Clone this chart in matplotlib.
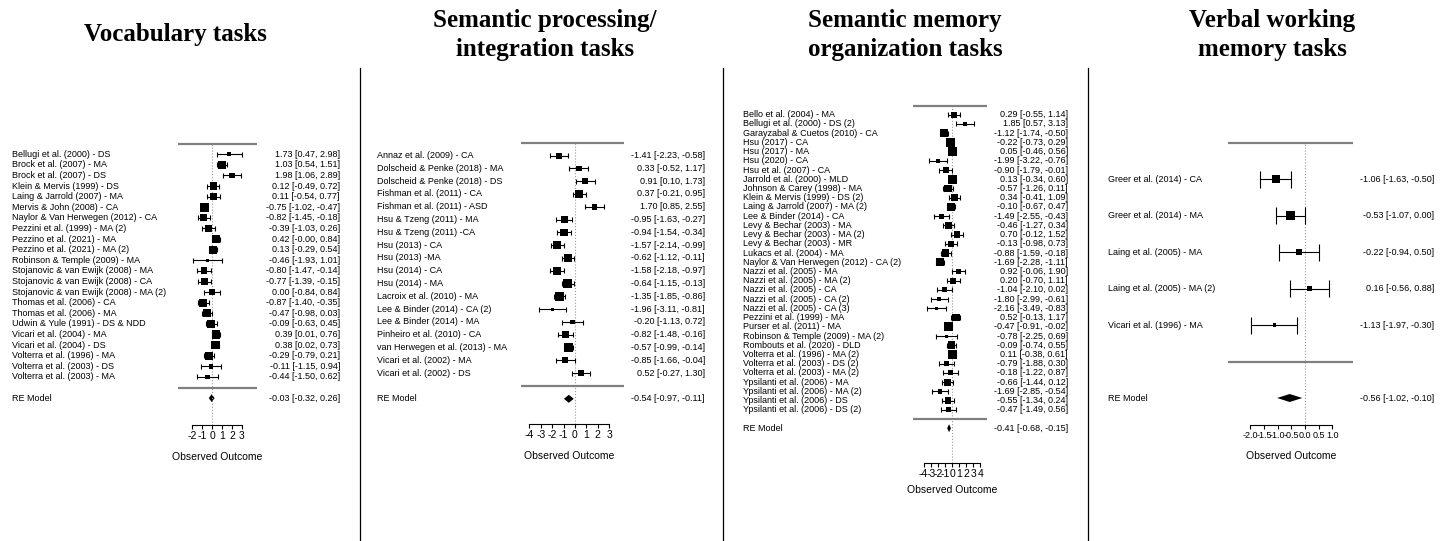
import numpy as np
import matplotlib
matplotlib.use('Agg')
import matplotlib.pyplot as plt
from matplotlib import transforms
from matplotlib.lines import Line2D

# ---- data ----
vocab_labels = ['Bellugi et al. (2000) - DS', 'Brock et al. (2007) - MA', 'Brock et al. (2007) - DS',
                'Klein & Mervis (1999) - DS', 'Laing & Jarrold (2007) - MA', 'Mervis & John (2008) - CA',
                'Naylor & Van Herwegen (2012) - CA', 'Pezzini et al. (1999) - MA (2)', 'Pezzino et al. (2021) - MA',
                'Pezzino et al. (2021) - MA (2)', 'Robinson & Temple (2009) - MA',
                'Stojanovic & van Ewijk (2008) - MA', 'Stojanovic & van Ewijk (2008) - CA',
                'Stojanovic & van Ewijk (2008) - MA (2)', 'Thomas et al. (2006) - CA', 'Thomas et al. (2006) - MA',
                'Udwin & Yule (1991) - DS & NDD', 'Vicari et al. (2004) - MA', 'Vicari et al. (2004) - DS',
                'Volterra et al. (1996) - MA', 'Volterra et al. (2003) - DS', 'Volterra et al. (2003) - MA']
vocab_est = [1.73, 1.03, 1.98, 0.12, 0.11, -0.75, -0.82, -0.39, 0.42, 0.13, -0.46, -0.80, -0.77, 0.00,
             -0.87, -0.47, -0.09, 0.39, 0.38, -0.29, -0.11, -0.44]
vocab_lo = [0.47, 0.54, 1.06, -0.49, -0.54, -1.02, -1.45, -1.03, -0.004, -0.29, -1.93, -1.47, -1.39, -0.84,
            -1.40, -0.98, -0.63, 0.01, 0.02, -0.79, -1.15, -1.50]
vocab_hi = [2.98, 1.51, 2.89, 0.72, 0.77, -0.47, -0.18, 0.26, 0.84, 0.54, 1.01, -0.14, -0.15, 0.84,
            -0.35, 0.03, 0.45, 0.76, 0.73, 0.21, 0.94, 0.62]
vocab_re = (-0.03, -0.32, 0.26)

sem_labels = ['Annaz et al. (2009) - CA', 'Dolscheid & Penke (2018) - MA', 'Dolscheid & Penke (2018) - DS',
              'Fishman et al. (2011) - CA', 'Fishman et al. (2011) - ASD', 'Hsu & Tzeng (2011) - MA',
              'Hsu & Tzeng (2011) -CA', 'Hsu (2013) - CA', 'Hsu (2013) -MA', 'Hsu (2014) - CA', 'Hsu (2014) - MA',
              'Lacroix et al. (2010) - MA', 'Lee & Binder (2014) - CA (2)', 'Lee & Binder (2014) - MA',
              'Pinheiro et al. (2010) - CA', 'van Herwegen et al. (2013) - MA', 'Vicari et al. (2002) - MA',
              'Vicari et al. (2002) - DS']
sem_est = [-1.41, 0.33, 0.91, 0.37, 1.70, -0.95, -0.94, -1.57, -0.62, -1.58, -0.64, -1.35, -1.96, -0.20,
           -0.82, -0.57, -0.85, 0.52]
sem_lo = [-2.23, -0.52, 0.10, -0.21, 0.85, -1.63, -1.54, -2.14, -1.12, -2.18, -1.15, -1.85, -3.11, -1.13,
          -1.48, -0.99, -1.66, -0.27]
sem_hi = [-0.58, 1.17, 1.73, 0.95, 2.55, -0.27, -0.34, -0.99, -0.11, -0.97, -0.13, -0.86, -0.81, 0.72,
          -0.16, -0.14, -0.04, 1.30]
sem_re = (-0.54, -0.97, -0.11)

org_labels = ['Bello et al. (2004) - MA', 'Bellugi et al. (2000) - DS (2)', 'Garayzabal & Cuetos (2010) - CA',
              'Hsu (2017) - CA', 'Hsu (2017) - MA', 'Hsu (2020) - CA', 'Hsu et al. (2007) - CA',
              'Jarrold et al. (2000) - MLD', 'Johnson & Carey (1998) - MA', 'Klein & Mervis (1999) - DS (2)',
              'Laing & Jarrold (2007) - MA (2)', 'Lee & Binder (2014) - CA', 'Levy & Bechar (2003) - MA',
              'Levy & Bechar (2003) - MA (2)', 'Levy & Bechar (2003) - MR', 'Lukacs et al. (2004) - MA',
              'Naylor & Van Herwegen (2012) - CA (2)', 'Nazzi et al. (2005) - MA', 'Nazzi et al. (2005) - MA (2)',
              'Nazzi et al. (2005) - CA', 'Nazzi et al. (2005) - CA (2)', 'Nazzi et al. (2005) - CA (3)',
              'Pezzini et al. (1999) - MA', 'Purser et al. (2011) - MA', 'Robinson & Temple (2009) - MA (2)',
              'Rombouts et al. (2020) - DLD', 'Volterra et al. (1996) - MA (2)', 'Volterra et al. (2003) - DS (2)',
              'Volterra et al. (2003) - MA (2)', 'Ypsilanti et al. (2006) - MA', 'Ypsilanti et al. (2006) - MA (2)',
              'Ypsilanti et al. (2006) - DS', 'Ypsilanti et al. (2006) - DS (2)']
org_est = [0.29, 1.85, -1.12, -0.22, 0.05, -1.99, -0.90, 0.13, -0.57, 0.34, -0.10, -1.49, -0.46, 0.70, -0.13,
           -0.88, -1.69, 0.92, 0.20, -1.04, -1.80, -2.16, 0.52, -0.47, -0.78, -0.09, 0.11, -0.79, -0.18, -0.66,
           -1.69, -0.55, -0.47]
org_lo = [-0.55, 0.57, -1.74, -0.73, -0.46, -3.22, -1.79, -0.34, -1.26, -0.41, -0.67, -2.55, -1.27, -0.12,
          -0.98, -1.59, -2.28, -0.06, -0.70, -2.10, -2.99, -3.49, -0.13, -0.91, -2.25, -0.74, -0.38, -1.88,
          -1.22, -1.44, -2.85, -1.34, -1.49]
org_hi = [1.14, 3.13, -0.50, 0.29, 0.56, -0.76, -0.01, 0.60, 0.11, 1.09, 0.47, -0.43, 0.34, 1.52, 0.73,
          -0.18, -1.11, 1.90, 1.11, 0.02, -0.61, -0.83, 1.17, -0.02, 0.69, 0.55, 0.61, 0.30, 0.87, 0.12,
          -0.54, 0.24, 0.56]
org_re = (-0.41, -0.68, -0.15)

wm_labels = ['Greer et al. (2014) - CA', 'Greer et al. (2014) - MA', 'Laing et al. (2005) - MA',
             'Laing et al. (2005) - MA (2)', 'Vicari et al. (1996) - MA']
wm_est = [-1.06, -0.53, -0.22, 0.16, -1.13]
wm_lo = [-1.63, -1.07, -0.94, -0.56, -1.97]
wm_hi = [-0.50, 0.00, 0.50, 0.88, -0.30]
wm_re = (-0.56, -1.02, -0.10)

titles = ['Vocabulary tasks', 'Semantic processing/\nintegration tasks',
          'Semantic memory\norganization tasks', 'Verbal working\nmemory tasks']

# ---- layout (pixels) ----
W, H = 1449, 541
T, B = 90, 510
panels = [
    dict(data=(vocab_labels, vocab_est, vocab_lo, vocab_hi, vocab_re), L=12, R=340, z=212, s=10.0,
         r=10.6, p0=387.5, axis=425, line=(-3.4, 4.5), ticks=np.arange(-2, 4), cap=2.5, tx=175,
         xl=32, tfs=7.5),
    dict(data=(sem_labels, sem_est, sem_lo, sem_hi, sem_re), L=377, R=705, z=575, s=11.43,
         r=12.8, p0=386, axis=424, line=(-4.72, 4.29), ticks=np.arange(-4, 4), cap=2.5, tx=545,
         xl=32, tfs=7.5),
    dict(data=(org_labels, org_est, org_lo, org_hi, org_re), L=743, R=1068, z=952, s=7.1,
         r=9.22, p0=419, axis=463, line=(-5.5, 4.9), ticks=np.arange(-4, 5), cap=2.5, tx=905,
         xl=27, tfs=7.5),
    dict(data=(wm_labels, wm_est, wm_lo, wm_hi, wm_re), L=1108, R=1434, z=1305, s=27.33,
         r=36.5, p0=361.5, axis=425, line=(-2.82, 1.76), ticks=np.arange(-2, 1.01, 0.5), cap=8.5, tx=1272,
         xl=31, tfs=6.5),
]

fig = plt.figure(figsize=(W / 100, H / 100), dpi=100)
lab_font = dict(family='Liberation Sans', fontsize=6.5)


def re_weights(est, lo, hi):
    y = np.array(est)
    vi = ((np.array(hi) - np.array(lo)) / 3.92) ** 2
    w = 1 / vi
    yb = np.sum(w * y) / np.sum(w)
    Q = np.sum(w * (y - yb) ** 2)
    tau2 = max(0, (Q - (len(y) - 1)) / (np.sum(w) - np.sum(w ** 2) / np.sum(w)))
    return 1 / (vi + tau2)


for p in panels:
    labels, est, lo, hi, re = p['data']
    k = len(labels)
    ax = fig.add_axes([p['L'] / W, 1 - B / H, (p['R'] - p['L']) / W, (B - T) / H])
    ax.set_facecolor('none')
    ax.set_xlim((p['L'] - p['z']) / p['s'], (p['R'] - p['z']) / p['s'])
    ax.set_ylim((p['p0'] - B) / p['r'], (p['p0'] - T) / p['r'])
    rows = np.arange(k, 0, -1)
    cap = p['cap'] / p['r']
    axis_y = (p['p0'] - p['axis']) / p['r']

    # weights -> square size
    w = re_weights(est, lo, hi)
    ms_max = 6.5
    ms = ms_max / 3 + (ms_max - ms_max / 3) * (w - w.min()) / (w.max() - w.min())

    ax.vlines(0, axis_y, k + 1, colors='#999999', linestyles=':', lw=0.8)
    ax.hlines([k + 1, 0], p['line'][0], p['line'][1], colors='#808080', lw=1.6)
    ax.hlines(rows, lo, hi, colors='black', lw=0.8)
    ax.vlines(lo, rows - cap, rows + cap, colors='black', lw=0.8)
    ax.vlines(hi, rows - cap, rows + cap, colors='black', lw=0.8)
    ax.scatter(est, rows, s=ms ** 2, marker='s', color='black', zorder=3, linewidths=0)

    h = 4 / p['r']
    ax.fill([re[1], re[0], re[2], re[0]], [-1, -1 + h, -1, -1 - h], color='black', lw=0)

    bt = transforms.blended_transform_factory(ax.transAxes, ax.transData)
    for yy, lab, e, l, u in zip(rows, labels, est, lo, hi):
        ax.text(0, yy, lab, transform=bt, ha='left', va='center', **lab_font)
        ax.text(1, yy, f'{e:.2f} [{l:.2f}, {u:.2f}]', transform=bt, ha='right', va='center', **lab_font)
    ax.text(0, -1, 'RE Model', transform=bt, ha='left', va='center', **lab_font)
    ax.text(1, -1, f'{re[0]:.2f} [{re[1]:.2f}, {re[2]:.2f}]', transform=bt, ha='right', va='center',
            **lab_font)

    for sp in ['top', 'left', 'right']:
        ax.spines[sp].set_visible(False)
    ax.spines['bottom'].set_position(('data', axis_y))
    ax.spines['bottom'].set_bounds(p['ticks'][0], p['ticks'][-1])
    ax.spines['bottom'].set_linewidth(0.8)
    ax.set_yticks([])
    ax.set_xticks(p['ticks'])
    if p['ticks'][1] - p['ticks'][0] < 1:
        ax.set_xticklabels([f'{t:.1f}' for t in p['ticks']])
    else:
        ax.set_xticklabels([f'{t:.0f}' for t in p['ticks']])
    ax.tick_params(axis='x', direction='out', length=3, width=0.8, pad=1.5, labelsize=p['tfs'])
    for t in ax.get_xticklabels():
        t.set_family('Liberation Sans')

    off = transforms.offset_copy(ax.transData, fig=fig, x=0, y=-p['xl'], units='dots')
    ax.text((p['ticks'][0] + p['ticks'][-1]) / 2, axis_y, 'Observed Outcome', transform=off,
            ha='center', va='center', family='Liberation Sans', fontsize=7.5)

for p, title in zip(panels, titles):
    fig.text(p['tx'] / W, 1 - 35 / H, title, ha='center', va='center', family='Liberation Serif',
             fontweight='bold', fontsize=18, linespacing=1.35)

for xs in [360, 723, 1088]:
    fig.add_artist(Line2D([xs / W, xs / W], [1 - 68 / H, 0], color='black', lw=0.9,
                          transform=fig.transFigure))

fig.savefig('out.png', dpi=100, facecolor='white')
